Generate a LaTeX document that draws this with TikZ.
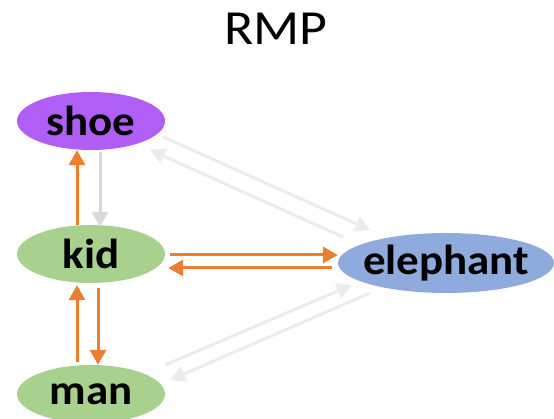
\documentclass[tikz,border=0pt]{standalone}
\usepackage{fontspec}
\usepackage{graphicx}
\setmainfont{Carlito}
\usetikzlibrary{shapes.geometric,arrows.meta}
\definecolor{shoepurple}{RGB}{177,94,246}
\definecolor{nodegreen}{RGB}{169,209,142}
\definecolor{nodeblue}{RGB}{143,170,220}
\definecolor{edgeorange}{RGB}{237,125,49}
\definecolor{edgegray}{RGB}{217,217,217}
\definecolor{edgelight}{RGB}{236,236,236}
% slightly widened lettering
\newcommand{\wide}[2]{\scalebox{#1}[1]{#2}}
\tikzset{
  word/.style={ellipse, inner xsep=-40pt, inner ysep=-10pt, font=\fontsize{42}{42}\selectfont\bfseries, text=black},
  hot/.style={draw=edgeorange, line width=3pt, -{Triangle[length=15pt,width=16pt]}},
  cold/.style={draw=edgegray, line width=3pt, -{Triangle[length=15pt,width=16pt]}},
  faint/.style={draw=edgelight, line width=3pt, -{Triangle[length=15pt,width=16pt]}}
}
\begin{document}
\begin{tikzpicture}[x=1pt,y=-1pt]
  \useasboundingbox (0,0) rectangle (554,419);
  \clip (0,0) rectangle (554,419);
  \fill[white] (0,0) rectangle (554,419);

  % title
  \node (title) at (276,29) {\fontsize{49}{49}\selectfont\wide{1.1}{RMP}};

  % words
  \node[word, fill=shoepurple, minimum width=148pt, minimum height=58pt] (shoe) at (91,121) {\wide{1.07}{shoe}};
  \node[word, fill=nodegreen, minimum width=148pt, minimum height=58pt] (kid) at (91,254) {\wide{1.07}{kid}};
  \node[word, fill=nodegreen, minimum width=148pt, minimum height=58pt] (man) at (91,394) {\wide{1.07}{man}};
  \node[word, fill=nodeblue, minimum width=216pt, minimum height=60pt] (elephant) at (446,263) {\wide{1.07}{elephant}};

  % shoe -- kid
  \draw[cold] ([xshift=9pt,yshift=-2pt]shoe.south) -- ([xshift=9pt,yshift=-2pt]kid.north);
  \draw[hot] ([xshift=-14pt]kid.north) -- ([xshift=-14pt]shoe.south);

  % kid -- man
  \draw[hot] ([xshift=7pt,yshift=-5pt]kid.south) -- ([xshift=7pt]man.north);
  \draw[hot] ([xshift=-14pt,yshift=3pt]man.north) -- ([xshift=-14pt,yshift=-2pt]kid.south);

  % kid -- elephant
  \draw[hot] ([xshift=5pt,yshift=-1pt]kid.east) -- ([yshift=8pt]elephant.west);
  \draw[hot] ([xshift=-6pt,yshift=-5pt]elephant.west) -- ([xshift=3pt,yshift=-14pt]kid.east);

  % shoe -- elephant
  \draw[faint] ([xshift=-2pt,yshift=-16pt]shoe.east) -- ([xshift=-76pt,yshift=33pt]elephant.center);
  \draw[faint] ([xshift=-103pt,yshift=26pt]elephant.center) -- ([xshift=-15pt,yshift=-29pt]shoe.east);

  % man -- elephant
  \draw[faint] ([yshift=29pt]man.east) -- ([xshift=-94pt,yshift=-22pt]elephant.center);
  \draw[faint] ([xshift=-76pt,yshift=-30pt]elephant.center) -- ([xshift=5pt,yshift=14pt]man.east);
\end{tikzpicture}
\end{document}
